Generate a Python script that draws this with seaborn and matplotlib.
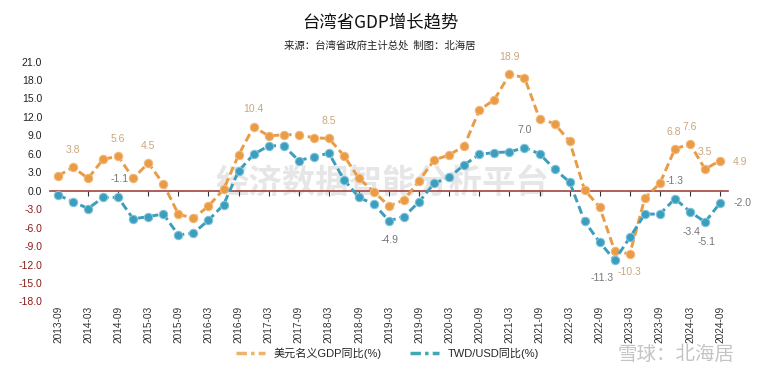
import matplotlib
matplotlib.use("Agg")
import matplotlib.pyplot as plt
from matplotlib.lines import Line2D
import seaborn as sns
import pandas as pd

# quarter labels (every quarter, 2013-09 .. 2024-09)
quarters = ["2013-09", "2013-12", "2014-03", "2014-06", "2014-09", "2014-12",
            "2015-03", "2015-06", "2015-09", "2015-12", "2016-03", "2016-06",
            "2016-09", "2016-12", "2017-03", "2017-06", "2017-09", "2017-12",
            "2018-03", "2018-06", "2018-09", "2018-12", "2019-03", "2019-06",
            "2019-09", "2019-12", "2020-03", "2020-06", "2020-09", "2020-12",
            "2021-03", "2021-06", "2021-09", "2021-12", "2022-03", "2022-06",
            "2022-09", "2022-12", "2023-03", "2023-06", "2023-09", "2023-12",
            "2024-03", "2024-06", "2024-09"]

# 美元名义GDP同比(%)
gdp_usd = [2.4, 3.8, 2.0, 5.1, 5.6, 2.0, 4.5, 1.1, -3.8, -4.5,
           -2.5, 0.2, 5.8, 10.4, 8.9, 9.1, 9.1, 8.6, 8.5, 5.7,
           2.0, -0.2, -2.5, -1.5, 1.6, 5.0, 5.8, 7.3, 13.1, 14.8,
           18.9, 18.4, 11.7, 10.9, 8.0, 0.1, -2.7, -9.8, -10.3, -1.2,
           1.2, 6.8, 7.6, 3.5, 4.9]

# TWD/USD同比(%)
twd_usd = [-0.7, -1.8, -2.9, -1.1, -1.1, -4.6, -4.2, -3.8, -7.2, -6.9,
           -4.8, -2.3, 3.2, 5.9, 7.3, 7.3, 4.9, 5.5, 6.1, 1.8,
           -1.1, -2.2, -4.9, -4.2, -1.8, 1.2, 2.2, 4.2, 5.9, 6.2,
           6.3, 7.0, 6.0, 3.5, 1.4, -5.0, -8.4, -11.3, -7.6, -3.8,
           -3.8, -1.3, -3.4, -5.1, -2.0]

# which points get a value label, and where (dx, dy in points)
gdp_labels = {1: (0, 12.5), 4: (0, 12.5), 6: (0, 12.5), 13: (0, 12.5), 18: (0, 12.5),
              30: (0, 12.5), 38: (0, -13), 41: (-1, 12.5), 42: (0, 12.5), 43: (0, 12.5),
              44: (14.5, -1)}
twd_labels = {4: (1, 13), 22: (0, -14), 31: (0, 12.5), 37: (-9, -13), 41: (0, 12.5),
              42: (1, -14.5), 43: (1, -14.5), 44: (16, 0)}

orange = "#E99B45"
blue = "#3C9DBD"

df = pd.DataFrame({"idx": range(len(quarters)), "gdp": gdp_usd, "twd": twd_usd})

sns.set_theme(style="white")
plt.rcParams["font.family"] = ["Liberation Sans", "Noto Sans CJK SC", "DejaVu Sans"]

fig = plt.figure(figsize=(7.6, 3.79), dpi=100)
ax = fig.add_axes([0.0664, 0.2047, 0.891, 0.633])

# watermark behind the lines
ax.text(0.49, 0.49, "经济数据智能分析平台", transform=ax.transAxes, ha="center", va="center",
        fontsize=24, family=["Noto Sans CJK SC"], color="#C8C8C8", alpha=0.45,
        weight="bold", zorder=0)

sns.lineplot(data=df, x="idx", y="gdp", ax=ax, color=orange, lw=2.1,
             linestyle=(0, (2.8, 1.4)), marker="o", markersize=6,
             markerfacecolor=orange, markeredgecolor="#F2B878", markeredgewidth=0.8,
             legend=False, zorder=3)
sns.lineplot(data=df, x="idx", y="twd", ax=ax, color=blue, lw=2.1,
             linestyle=(0, (2.8, 1.4)), marker="o", markersize=6,
             markerfacecolor=blue, markeredgecolor="#7CC3DA", markeredgewidth=0.8,
             legend=False, zorder=3)

for i, (dx, dy) in gdp_labels.items():
    ax.annotate(f"{gdp_usd[i]:.1f}", (i, gdp_usd[i]), xytext=(dx, dy),
                textcoords="offset points", ha="center", va="center",
                fontsize=7.5, color="#C9A67C")
for i, (dx, dy) in twd_labels.items():
    ax.annotate(f"{twd_usd[i]:.1f}", (i, twd_usd[i]), xytext=(dx, dy),
                textcoords="offset points", ha="center", va="center",
                fontsize=7.5, color="#767676")

ax.set_xlim(-0.5, len(quarters) - 0.5)
ax.set_ylim(-18, 21)
yt = [v * 3.0 for v in range(-6, 8)]
ax.set_yticks(yt)
ax.set_yticklabels([f"{v:.1f}" for v in yt], fontsize=7.5)
for lab, v in zip(ax.get_yticklabels(), yt):
    lab.set_color("#8B1C1C" if v < 0 else "#222222")
ax.tick_params(axis="y", length=0, pad=6)

ticks = list(range(0, len(quarters), 2))
ax.set_xticks(ticks)
ax.set_xticklabels([quarters[i] for i in ticks], rotation=90, fontsize=7.3, color="#333333")
ax.tick_params(axis="x", length=0, pad=3)
ax.set_xlabel("")
ax.set_ylabel("")
for s in ax.spines.values():
    s.set_visible(False)

# zero axis with small tick marks
zero = ax.secondary_xaxis(18 / 39)
zero.spines["bottom"].set_color("#A0443E")
zero.spines["bottom"].set_linewidth(1.2)
zero.set_xticks(ticks)
zero.set_xticklabels([])
zero.tick_params(axis="x", direction="out", length=3.5, width=0.8, color="#333333")

fig.text(0.5, 0.94, "台湾省GDP增长趋势", ha="center", va="center",
         fontsize=12.5, family=["Noto Sans CJK SC"], color="#111111")
fig.text(0.5, 0.88, "来源：台湾省政府主计总处  制图：北海居", ha="center", va="center",
         fontsize=7.5, family=["Noto Sans CJK SC"], style="italic", color="#222222")

fig.text(0.89, 0.065, "雪球：北海居", ha="center", va="center", fontsize=14,
         family=["Noto Sans CJK SC"], color="#C4C4C4")

dashdot = (0, (3, 1.2, 1, 1.2))
handles = [Line2D([], [], color="#EDB26E", lw=2.5, linestyle=dashdot),
           Line2D([], [], color="#3FA7B5", lw=2.5, linestyle=dashdot)]
labels = ["美元名义GDP同比(%)", "TWD/USD同比(%)"]
fig.legend(handles, labels, loc="center", bbox_to_anchor=(0.51, 0.068), ncol=2, frameon=False,
           handlelength=2.6, columnspacing=2.5,
           prop={"family": ["Liberation Sans", "Noto Sans CJK SC"], "size": 8})

fig.savefig("out.png", dpi=100, facecolor="white")
